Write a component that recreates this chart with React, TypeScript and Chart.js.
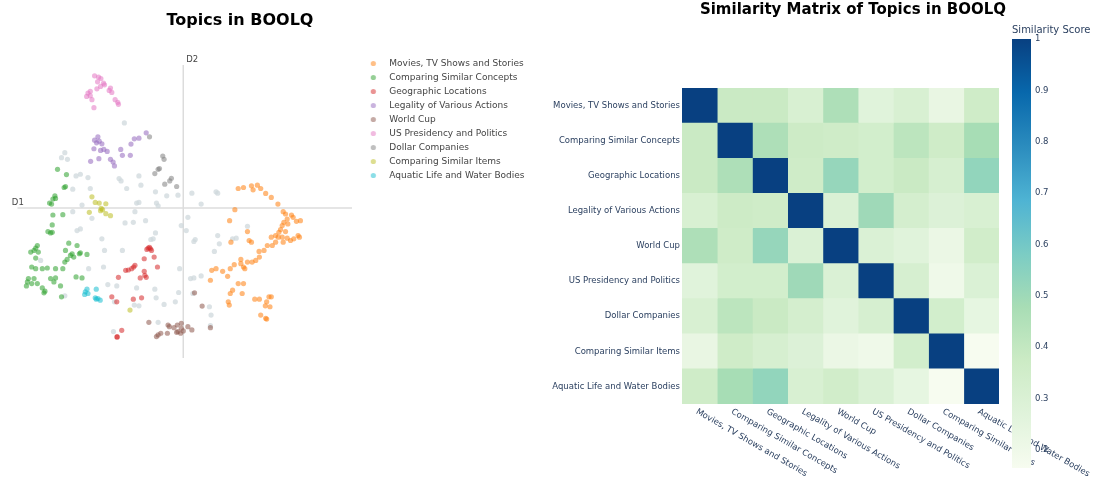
import React, { useEffect, useRef } from "react";
import { Chart, registerables } from "chart.js";

Chart.register(...registerables);

const FONT = "'DejaVu Sans', Verdana, sans-serif";

// ---------- topics ----------
const topicNames = [
  "Movies, TV Shows and Stories",
  "Comparing Similar Concepts",
  "Geographic Locations",
  "Legality of Various Actions",
  "World Cup",
  "US Presidency and Politics",
  "Dollar Companies",
  "Comparing Similar Items",
  "Aquatic Life and Water Bodies",
];
const topicColors = ["#ff7f0e", "#2ca02c", "#d62728", "#9467bd", "#8c564b", "#e377c2", "#7f7f7f", "#bcbd22", "#17becf"];
const outlierColor = "#CFD8DC";

// ---------- 2D document map (D1, D2) ----------
const moviesPts: [number, number][] = [
  [7.12, 5.42], [7.28, 5.45], [7.52, 5.5], [7.7, 5.52], [7.57, 5.38], [7.8, 5.42], [7.95, 5.27], [8.12, 5.15],
  [8.32, 4.95], [8.48, 4.72], [8.55, 4.65], [8.73, 4.62], [8.78, 4.55], [8.88, 4.43], [9.0, 4.45], [8.5, 4.4],
  [8.62, 4.35], [8.45, 4.3], [8.55, 4.12], [8.35, 4.1], [8.25, 4.0], [8.12, 3.95], [8.33, 3.95], [8.45, 3.95],
  [8.6, 3.92], [8.7, 3.85], [8.8, 3.9], [8.93, 4.0], [8.97, 3.95], [8.48, 3.8], [8.25, 3.8], [8.15, 3.7],
  [8.0, 3.7], [7.9, 3.55], [7.76, 3.35], [7.65, 3.25], [7.54, 3.2], [7.4, 3.2], [7.2, 3.15], [7.0, 3.12],
  [6.88, 3.0], [6.45, 3.0], [6.32, 2.95], [6.65, 2.92], [6.8, 2.77], [7.28, 3.05], [7.32, 3.0], [7.02, 4.78],
  [6.86, 4.45], [7.4, 4.12], [7.45, 3.85], [7.52, 3.8], [6.9, 3.8], [7.75, 3.52], [7.28, 2.55], [7.12, 2.55],
  [6.95, 2.35], [6.88, 2.25], [6.82, 2.0], [6.85, 1.9], [6.28, 2.65], [7.24, 2.25], [7.62, 2.08], [7.76, 2.08],
  [7.98, 2.0], [8.12, 2.15], [8.05, 2.15], [7.94, 1.88], [7.8, 1.6], [7.95, 1.5], [7.98, 1.48], [8.08, 1.85],
  [8.4, 4.18], [7.2, 3.28], [8.6, 4.5],
];
const conceptsPts: [number, number][] = [
  [1.66, 6.0], [1.93, 5.84], [1.86, 5.45], [1.9, 5.48], [1.58, 5.2], [1.52, 5.1], [1.42, 4.98], [1.48, 4.95],
  [1.6, 5.12], [1.52, 4.62], [1.82, 4.63], [1.5, 4.32], [1.37, 4.12], [1.45, 4.08], [1.5, 4.1], [1.05, 3.7],
  [1.0, 3.62], [0.95, 3.55], [0.85, 3.5], [1.08, 3.5], [1.0, 3.32], [2.0, 3.77], [2.25, 3.7], [1.9, 3.55],
  [2.1, 3.45], [2.05, 3.4], [1.95, 3.28], [2.15, 3.35], [2.32, 3.45], [1.88, 3.2], [2.35, 3.48], [2.55, 3.43],
  [0.88, 3.05], [1.0, 3.0], [1.2, 3.0], [1.35, 3.02], [1.6, 3.0], [1.82, 3.0], [2.22, 2.75], [2.4, 2.72],
  [0.78, 2.7], [0.75, 2.6], [0.95, 2.7], [1.05, 2.55], [0.72, 2.48], [0.88, 2.55], [1.2, 2.42], [1.28, 2.32],
  [1.25, 2.27], [1.45, 2.7], [1.6, 2.72], [1.55, 2.6], [1.75, 2.48], [1.78, 2.15],
];
const geoPts: [number, number][] = [
  [4.4, 3.62], [4.47, 3.6], [4.36, 3.58], [4.5, 3.55], [4.44, 3.64], [4.28, 3.3], [4.58, 3.35], [4.0, 3.1],
  [3.9, 3.0], [3.8, 2.96], [3.72, 2.95], [3.96, 3.05], [4.28, 2.92], [4.3, 2.8], [4.34, 2.74], [4.16, 2.72],
  [4.68, 3.05], [3.5, 2.74], [3.3, 2.15], [3.45, 2.0], [3.95, 2.08], [4.2, 2.12], [3.6, 1.14], [3.46, 0.94],
  [3.46, 0.94],
];
const legalityPts: [number, number][] = [
  [2.88, 6.98], [2.78, 6.88], [2.92, 6.85], [2.84, 6.8], [3.0, 6.77], [2.76, 6.62], [2.96, 6.57], [3.06, 6.6],
  [3.16, 6.54], [2.91, 6.32], [2.66, 6.24], [3.26, 6.3], [3.34, 6.22], [3.38, 6.1], [3.57, 6.6], [3.62, 6.42],
  [3.86, 6.42], [3.98, 6.92], [4.12, 6.94], [4.34, 7.1], [3.88, 6.76],
];
const worldCupPts: [number, number][] = [
  [5.4, 1.35], [5.28, 1.3], [5.18, 1.22], [5.04, 1.25], [5.4, 1.2], [5.3, 1.1], [5.38, 1.05], [5.26, 1.08],
  [5.46, 1.12], [5.6, 1.25], [5.72, 1.15], [4.98, 1.05], [4.7, 1.0], [4.78, 1.05], [4.65, 0.95], [4.42, 1.38],
  [6.03, 1.87], [5.8, 2.27], [6.28, 1.22], [5.0, 1.3],
];
const presidencyPts: [number, number][] = [
  [2.78, 8.82], [2.9, 8.78], [2.97, 8.74], [3.05, 8.6], [3.08, 8.55], [2.87, 8.64], [2.96, 8.5], [2.85, 8.43],
  [2.65, 8.35], [2.58, 8.3], [2.54, 8.2], [2.65, 8.22], [3.26, 8.45], [3.3, 8.32], [3.22, 8.38], [3.4, 8.1],
  [3.48, 8.02], [3.5, 7.96], [2.76, 7.86], [2.7, 8.1],
];
const dollarPts: [number, number][] = [
  [4.84, 6.4], [4.88, 6.3], [4.7, 6.0], [4.74, 6.02], [4.6, 5.87], [5.1, 5.73], [5.05, 5.65], [4.9, 5.55],
  [5.26, 5.48], [4.44, 6.98],
];
const itemsPts: [number, number][] = [
  [2.7, 5.17], [2.8, 5.0], [2.92, 4.98], [3.12, 4.96], [2.98, 4.82], [2.96, 4.75], [3.02, 4.78], [2.62, 4.7],
  [3.12, 4.66], [3.26, 4.6], [3.85, 1.75],
];
const aquaticPts: [number, number][] = [
  [2.55, 2.38], [2.5, 2.3], [2.48, 2.22], [2.58, 2.25], [2.83, 2.38], [2.8, 2.12], [2.88, 2.1], [2.95, 2.05],
  [2.83, 2.08],
];
const outlierPts: [number, number][] = [
  [3.68, 7.4], [1.88, 6.5], [1.78, 6.35], [1.96, 6.3], [2.35, 5.85], [2.22, 5.8], [2.58, 5.75], [2.12, 5.4],
  [2.65, 5.42], [2.4, 4.92], [2.12, 4.72], [2.7, 4.52], [2.35, 4.2], [2.25, 4.15], [3.0, 3.9], [3.08, 3.55],
  [3.62, 3.55], [3.52, 5.72], [3.58, 5.65], [4.12, 5.8], [4.18, 5.52], [3.75, 5.42], [4.05, 4.98], [4.12, 5.0],
  [4.65, 4.98], [4.7, 4.9], [4.0, 4.72], [4.32, 4.45], [3.7, 4.38], [3.95, 4.4], [4.62, 5.32], [4.96, 5.2],
  [5.3, 5.22], [5.72, 5.28], [6.45, 5.32], [6.5, 5.28], [6.0, 4.95], [5.6, 4.55], [5.4, 4.3], [5.55, 4.15],
  [5.82, 3.88], [5.78, 3.82], [6.5, 4.0], [6.55, 3.75], [6.4, 3.52], [6.95, 3.9], [7.06, 3.92], [7.4, 4.28],
  [4.62, 4.08], [4.48, 3.88], [4.55, 3.9], [5.35, 3.0], [5.68, 2.7], [5.78, 2.72], [6.0, 2.78], [4.64, 2.12],
  [4.6, 2.38], [4.05, 2.42], [3.18, 2.52], [3.45, 2.48], [2.6, 3.0], [3.05, 3.05], [1.15, 3.25], [1.88, 2.18],
  [3.38, 2.0], [3.98, 1.9], [4.12, 1.88], [4.88, 1.92], [5.22, 2.0], [5.32, 2.28], [5.75, 2.25], [6.25, 1.85],
  [6.3, 1.6], [6.28, 1.28], [4.7, 1.38], [3.35, 1.1],
];
const topicPoints = [moviesPts, conceptsPts, geoPts, legalityPts, worldCupPts, presidencyPts, dollarPts, itemsPts, aquaticPts];

// axis guide lines through the centre of the map
const axisD1: [number, number][] = [[0.45, 4.83], [10.56, 4.83]];
const axisD2: [number, number][] = [[5.46, 9.15], [5.46, 0.3]];
const d1LabelAt = { x: 0.28, y: 4.99 };
const d2LabelAt = { x: 5.55, y: 9.3 };

// ---------- similarity matrix ----------
const simMovies = [1, 0.38, 0.38, 0.31, 0.46, 0.27, 0.31, 0.23, 0.36];
const simConcepts = [0.38, 1, 0.46, 0.37, 0.36, 0.34, 0.42, 0.36, 0.48];
const simGeo = [0.38, 0.46, 1, 0.36, 0.52, 0.34, 0.38, 0.32, 0.53];
const simLegality = [0.31, 0.37, 0.36, 1, 0.3, 0.5, 0.33, 0.29, 0.31];
const simWorldCup = [0.46, 0.36, 0.52, 0.3, 1, 0.3, 0.27, 0.22, 0.35];
const simPresidency = [0.27, 0.34, 0.34, 0.5, 0.3, 1, 0.32, 0.2, 0.3];
const simDollar = [0.31, 0.42, 0.38, 0.33, 0.27, 0.32, 1, 0.34, 0.24];
const simItems = [0.23, 0.36, 0.32, 0.29, 0.22, 0.2, 0.34, 1, 0.165];
const simAquatic = [0.36, 0.48, 0.53, 0.31, 0.35, 0.3, 0.24, 0.165, 1];
const similarity = [simMovies, simConcepts, simGeo, simLegality, simWorldCup, simPresidency, simDollar, simItems, simAquatic];

const colorbarTicks = [0.2, 0.3, 0.4, 0.5, 0.6, 0.7, 0.8, 0.9, 1];

// GnBu colour scale
const gnbuStops = [0, 0.125, 0.25, 0.375, 0.5, 0.625, 0.75, 0.875, 1];
const gnbuRgb = [
  [247, 252, 240], [224, 243, 219], [204, 235, 197], [168, 221, 181], [123, 204, 196],
  [78, 179, 211], [43, 140, 190], [8, 104, 172], [8, 64, 129],
];

const zMin = Math.min(...similarity.flat());
const zMax = Math.max(...similarity.flat());

function gnbu(v: number): string {
  const t = Math.max(0, Math.min(1, (v - zMin) / (zMax - zMin)));
  for (let i = 1; i < gnbuStops.length; i++) {
    if (t <= gnbuStops[i]) {
      const f = (t - gnbuStops[i - 1]) / (gnbuStops[i] - gnbuStops[i - 1]);
      const a = gnbuRgb[i - 1];
      const b = gnbuRgb[i];
      const c = a.map((x, k) => Math.round(x + (b[k] - x) * f));
      return `rgb(${c[0]},${c[1]},${c[2]})`;
    }
  }
  const l = gnbuRgb[gnbuRgb.length - 1];
  return `rgb(${l[0]},${l[1]},${l[2]})`;
}

function rgba(hex: string, a: number): string {
  const n = parseInt(hex.slice(1), 16);
  return `rgba(${(n >> 16) & 255},${(n >> 8) & 255},${n & 255},${a})`;
}

function makeDot(color: string): HTMLCanvasElement {
  const c = document.createElement("canvas");
  c.width = 7;
  c.height = 7;
  const g = c.getContext("2d")!;
  g.fillStyle = rgba(color, 0.5);
  g.beginPath();
  g.arc(3.5, 3.5, 2.6, 0, Math.PI * 2);
  g.fill();
  return c;
}

const POINT_ALPHA = 0.55;
const LEGEND_FONT_SIZE = 9;
const LEGEND_BOX = 23;
const LEGEND_PAD = 5;
const LEFT_W = 545;
const PLOT_RIGHT = 356.8; // right edge of the map area inside the left canvas

export default function App() {
  const leftRef = useRef<HTMLCanvasElement>(null);
  const heatRef = useRef<HTMLCanvasElement>(null);
  const barRef = useRef<HTMLCanvasElement>(null);

  useEffect(() => {
    const dots = topicColors.map(makeDot);

    // width of the legend box (Chart.js: padding + box + font/2 + text + 10)
    const mctx = document.createElement("canvas").getContext("2d")!;
    mctx.font = `${LEGEND_FONT_SIZE}px ${FONT}`;
    const tw = Math.max(...topicNames.map((n) => mctx.measureText(n).width));
    const legendWidth = LEGEND_PAD + LEGEND_BOX + LEGEND_FONT_SIZE / 2 + tw + 10;
    const padRight = Math.max(0, LEFT_W - (PLOT_RIGHT + legendWidth));

    const mapLabels = {
      id: "mapLabels",
      afterDatasetsDraw(chart: any) {
        const { ctx, scales } = chart;
        ctx.save();
        ctx.font = `8.5px ${FONT}`;
        ctx.fillStyle = "#444";
        ctx.textAlign = "left";
        ctx.textBaseline = "middle";
        ctx.fillText("D1", scales.x.getPixelForValue(d1LabelAt.x), scales.y.getPixelForValue(d1LabelAt.y));
        ctx.fillText("D2", scales.x.getPixelForValue(d2LabelAt.x), scales.y.getPixelForValue(d2LabelAt.y));
        ctx.font = `bold 16px ${FONT}`;
        ctx.fillStyle = "#000";
        ctx.textAlign = "center";
        ctx.fillText("Topics in BOOLQ", 240, 21.3);
        ctx.restore();
      },
    };

    const scatterSets: any[] = topicNames.map((name, i) => ({
      type: "scatter",
      label: name,
      data: topicPoints[i].map(([x, y]) => ({ x, y })),
      backgroundColor: rgba(topicColors[i], POINT_ALPHA),
      borderColor: "rgba(0,0,0,0)",
      borderWidth: 0,
      pointRadius: 2.6,
      pointHoverRadius: 2.6,
    }));
    scatterSets.push({
      type: "scatter",
      label: "Outliers",
      data: outlierPts.map(([x, y]) => ({ x, y })),
      backgroundColor: rgba(outlierColor, 0.75),
      borderColor: "rgba(0,0,0,0)",
      borderWidth: 0,
      pointRadius: 2.6,
      pointHoverRadius: 2.6,
    });
    [axisD1, axisD2].forEach((line, k) => {
      scatterSets.push({
        type: "line",
        label: k === 0 ? "D1" : "D2",
        data: line.map(([x, y]) => ({ x, y })),
        borderColor: "#dcdcdc",
        borderWidth: 1.5,
        pointRadius: 0,
        showLine: true,
        fill: false,
        tension: 0,
      });
    });

    const left = new Chart(leftRef.current!, {
      type: "scatter",
      data: { datasets: scatterSets },
      options: {
        responsive: false,
        animation: false,
        events: [],
        layout: { padding: { left: 0, right: padRight, top: 54, bottom: 0 } },
        scales: {
          x: { type: "linear", display: false, min: 0, max: 10.704 },
          y: { type: "linear", display: false, min: -3.21, max: 9.48 },
        },
        plugins: {
          tooltip: { enabled: false },
          title: { display: false },
          legend: {
            position: "right",
            align: "start",
            labels: {
              usePointStyle: true,
              pointStyleWidth: LEGEND_BOX,
              boxWidth: LEGEND_BOX,
              boxHeight: LEGEND_FONT_SIZE,
              padding: LEGEND_PAD,
              color: "#444",
              font: { family: FONT, size: LEGEND_FONT_SIZE },
              generateLabels: () =>
                topicNames.map((name, i) => ({
                  text: name,
                  pointStyle: dots[i],
                  fillStyle: rgba(topicColors[i], 0.5),
                  strokeStyle: "rgba(0,0,0,0)",
                  lineWidth: 0,
                  hidden: false,
                  datasetIndex: i,
                  fontColor: "#444",
                })),
            },
          },
        },
      } as any,
      plugins: [mapLabels],
    });

    const heatText = {
      id: "heatText",
      afterDraw(chart: any) {
        const { ctx, chartArea, scales } = chart;
        ctx.save();
        ctx.fillStyle = "#000";
        ctx.font = `bold 15px ${FONT}`;
        ctx.textAlign = "center";
        ctx.textBaseline = "middle";
        ctx.fillText("Similarity Matrix of Topics in BOOLQ", 313, 10);
        ctx.font = `8.5px ${FONT}`;
        ctx.fillStyle = "#2a3f5f";
        ctx.textAlign = "left";
        topicNames.forEach((name, j) => {
          const x = scales.x.getPixelForValue(j + 0.5) - 3;
          const y = chartArea.bottom + 7;
          ctx.save();
          ctx.translate(x, y);
          ctx.rotate(Math.PI / 6);
          ctx.fillText(name, 0, 0);
          ctx.restore();
        });
        ctx.restore();
      },
    };

    const heat = new Chart(heatRef.current!, {
      type: "bar",
      data: {
        labels: topicNames,
        datasets: topicNames.map((name, j) => ({
          label: name,
          data: topicNames.map(() => 1),
          backgroundColor: similarity.map((row) => gnbu(row[j])),
          borderWidth: 0,
          barPercentage: 1,
          categoryPercentage: 1,
        })),
      },
      options: {
        indexAxis: "y",
        responsive: false,
        animation: false,
        events: [],
        layout: { padding: { left: 0, right: 96, top: 88, bottom: 73 } },
        scales: {
          x: { type: "linear", stacked: true, min: 0, max: 9, display: false },
          y: {
            stacked: true,
            grid: { display: false, drawTicks: false },
            border: { display: false },
            ticks: { color: "#2a3f5f", font: { family: FONT, size: 8.5 }, padding: 2, autoSkip: false },
            afterFit: (s: any) => {
              s.width = 142;
            },
          },
        },
        plugins: { legend: { display: false }, tooltip: { enabled: false }, title: { display: false } },
      } as any,
      plugins: [heatText],
    });

    const bar = new Chart(barRef.current!, {
      type: "bar",
      data: {
        labels: ["Similarity Score"],
        datasets: [
          {
            label: "Similarity Score",
            data: [[zMin, zMax]] as any,
            borderWidth: 0,
            barPercentage: 1,
            categoryPercentage: 1,
            backgroundColor: (c: any) => {
              const chart = c.chart;
              const ys = chart.scales && chart.scales.y;
              if (!chart.chartArea || !ys) return gnbu(0.5);
              const g = chart.ctx.createLinearGradient(0, ys.getPixelForValue(zMin), 0, ys.getPixelForValue(zMax));
              gnbuStops.forEach((s, i) => {
                const c3 = gnbuRgb[i];
                g.addColorStop(s, `rgb(${c3[0]},${c3[1]},${c3[2]})`);
              });
              return g;
            },
          },
        ],
      },
      options: {
        responsive: false,
        animation: false,
        events: [],
        layout: { padding: { left: 12, right: 0, top: 0, bottom: 7 } },
        scales: {
          x: { display: false },
          y: {
            position: "right",
            min: zMin,
            max: zMax,
            grid: { display: false, drawTicks: false },
            border: { display: false },
            ticks: {
              color: "#2a3f5f",
              font: { family: FONT, size: 8.5 },
              padding: 4,
              callback: (v: any) => String(Math.round(Number(v) * 10) / 10),
            },
            afterBuildTicks: (s: any) => {
              s.ticks = colorbarTicks.map((value) => ({ value }));
            },
            afterFit: (s: any) => {
              s.width = 64;
            },
          },
        },
        plugins: {
          legend: { display: false },
          tooltip: { enabled: false },
          title: {
            display: true,
            text: "Similarity Score",
            align: "start",
            color: "#2a3f5f",
            font: { family: FONT, size: 10, weight: "normal" },
            padding: { top: 24, bottom: 3 },
          },
        },
      } as any,
    });

    return () => {
      left.destroy();
      heat.destroy();
      bar.destroy();
    };
  }, []);

  return (
    <div style={{ position: "fixed", left: 0, top: 0, width: 1095, height: 477, background: "#fff", overflow: "hidden" }}>
      <canvas ref={leftRef} width={LEFT_W} height={477} style={{ position: "absolute", left: 0, top: 0 }} />
      <canvas ref={heatRef} width={555} height={477} style={{ position: "absolute", left: 540, top: 0 }} />
      <canvas ref={barRef} width={95} height={477} style={{ position: "absolute", left: 1000, top: 0 }} />
    </div>
  );
}
